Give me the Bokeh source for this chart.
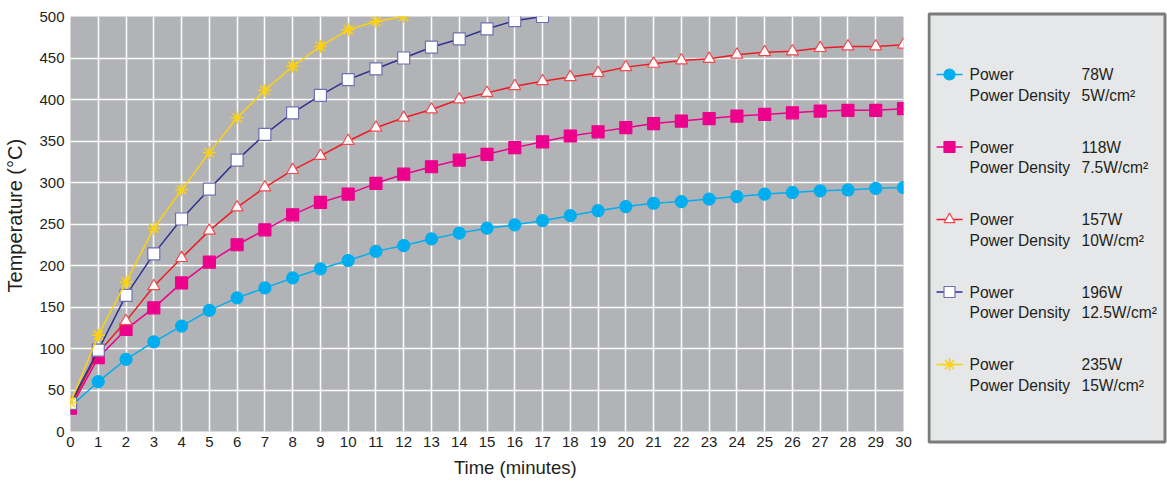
from bokeh.plotting import figure
from bokeh.models import Range1d, FixedTicker, ColumnDataSource
from bokeh.layouts import row
from bokeh.core.properties import value
from bokeh.embed import file_html
from bokeh.resources import INLINE

# ---------------- data ----------------
x_ticks = list(range(0, 31))
y_ticks = list(range(0, 501, 50))

t78 = list(range(31))
temp78 = [30, 60, 87, 108, 127, 146, 161, 173, 185, 196, 206, 217, 224, 232, 239, 245,
          249, 254, 260, 266, 271, 275, 277, 280, 283, 286, 288, 290, 291, 293, 294]
t118 = list(range(31))
temp118 = [28, 89, 123, 149, 179, 204, 225, 243, 261, 276, 286, 299, 310, 319, 327, 334,
           342, 349, 356, 361, 366, 371, 374, 377, 380, 382, 384, 386, 387, 387, 389]
t157 = list(range(31))
temp157 = [31, 95, 133, 175, 209, 242, 270, 294, 315, 332, 350, 366, 378, 388, 400, 408,
           416, 422, 427, 432, 439, 443, 447, 449, 454, 457, 458, 462, 464, 464, 466]
t196 = list(range(18))
temp196 = [34, 98, 164, 214, 256, 292, 327, 358, 384, 405, 424, 437, 450, 463, 473, 485,
           495, 500]
t235 = list(range(13))
temp235 = [35, 116, 180, 245, 291, 336, 378, 411, 440, 464, 484, 494, 500]

legend_power = ["78W", "118W", "157W", "196W", "235W"]
legend_density = ["5W/cm\u00b2", "7.5W/cm\u00b2", "10W/cm\u00b2", "12.5W/cm\u00b2", "15W/cm\u00b2"]

FONT = "Liberation Sans"
TXT = "#231f20"
NB = "\u00a0"

series = [
    dict(x=t78, y=temp78, line="#00aeef", marker="circle", fill="#00aeef", mline="#00aeef", size=12),
    dict(x=t118, y=temp118, line="#ec008c", marker="square", fill="#ec008c", mline="#ec008c", size=12),
    dict(x=t157, y=temp157, line="#ed1c24", marker="triangle", fill="white", mline="#ef4a50", size=12),
    dict(x=t196, y=temp196, line="#2e3192", marker="square", fill="white", mline="#6d6fb2", size=12),
    dict(x=t235, y=temp235, line="#fcd20f", marker="asterisk", fill="#fcd20f", mline="#fcd20f", size=13),
]

# ---------------- main chart ----------------
p = figure(width=927, height=482,
           min_border_left=70, min_border_right=24, min_border_top=16, min_border_bottom=51,
           x_range=Range1d(0, 30), y_range=Range1d(0, 500),
           output_backend="svg", toolbar_location=None)
p.frame_align = False
p.background_fill_color = "#b2b3b6"
p.border_fill_color = "white"
p.outline_line_color = None

p.xaxis.ticker = FixedTicker(ticks=x_ticks)
p.yaxis.ticker = FixedTicker(ticks=y_ticks)
p.xgrid.ticker = FixedTicker(ticks=x_ticks)
p.ygrid.ticker = FixedTicker(ticks=y_ticks)
p.grid.grid_line_color = "white"
p.grid.grid_line_width = 1.6
p.grid.grid_line_alpha = 0.95

for ax in (p.xaxis[0], p.yaxis[0]):
    ax.axis_line_color = None
    ax.major_tick_line_color = None
    ax.minor_tick_line_color = None
    ax.major_tick_out = 0
    ax.major_tick_in = 0
    ax.major_label_text_font = FONT
    ax.major_label_text_font_size = "15px"
    ax.major_label_text_color = TXT
    ax.axis_label_text_font = FONT
    ax.axis_label_text_font_style = "normal"
    ax.axis_label_text_color = TXT

p.xaxis.axis_label = NB * 11 + "Time (minutes)"
p.yaxis.axis_label = NB * 3 + "Temperature (\u00b0C)"
p.xaxis.axis_label_text_font_size = "18.5px"
p.yaxis.axis_label_text_font_size = "20px"
p.xaxis.major_label_standoff = 5
p.yaxis.major_label_standoff = 6
p.xaxis.axis_label_standoff = 7
p.yaxis.axis_label_standoff = 10

for s in series:
    src = ColumnDataSource(dict(x=s["x"], y=s["y"]))
    p.line("x", "y", source=src, line_color=s["line"], line_width=1.5)
    if s["marker"] == "asterisk":
        p.scatter("x", "y", source=src, marker="asterisk", size=s["size"],
                  line_color=s["mline"], line_width=1.5)
    else:
        p.scatter("x", "y", source=src, marker=s["marker"], size=s["size"],
                  fill_color=s["fill"], line_color=s["mline"], line_width=1.2)

# ---------------- legend panel ----------------
LW, LH = 240, 482
leg = figure(width=LW, height=LH, x_range=Range1d(0, LW), y_range=Range1d(LH, 0),
             min_border=0, output_backend="svg", toolbar_location=None)
leg.frame_align = False
leg.axis.visible = False
leg.grid.visible = False
leg.outline_line_color = None
leg.background_fill_color = "white"
leg.border_fill_color = "white"

leg.quad(left=[1.5], right=[237.5], top=[13.5], bottom=[441.5],
         fill_color="#e6e7e8", line_color="#7b7b7b", line_width=3)

row0, dy, sub = 74.0, 72.5, 20.5
ys = [row0 + i * dy for i in range(len(series))]
for i, s in enumerate(series):
    y = ys[i]
    leg.segment(x0=[9], y0=[y], x1=[35], y1=[y], line_color=s["line"], line_width=1.5)
    if s["marker"] == "asterisk":
        leg.scatter([22], [y], marker="asterisk", size=s["size"], line_color=s["mline"], line_width=1.5)
    else:
        leg.scatter([22], [y], marker=s["marker"], size=s["size"] - 1,
                    fill_color=s["fill"], line_color=s["mline"], line_width=1.2)

leg_src = ColumnDataSource(dict(
    y1=ys, y2=[y + sub for y in ys],
    lab1=["Power"] * len(ys), lab2=["Power Density"] * len(ys),
    v1=legend_power, v2=legend_density))
for col_x, col_t, col_y in ((42, "lab1", "y1"), (42, "lab2", "y2"), (154, "v1", "y1"), (154, "v2", "y2")):
    leg.text(x=col_x, y=col_y, text=col_t, source=leg_src,
             text_font=value(FONT), text_font_size="15.6px", text_color=TXT,
             text_baseline="middle", text_align="left")

layout = row(p, leg)
open("out.html", "w").write(file_html(layout, INLINE))
